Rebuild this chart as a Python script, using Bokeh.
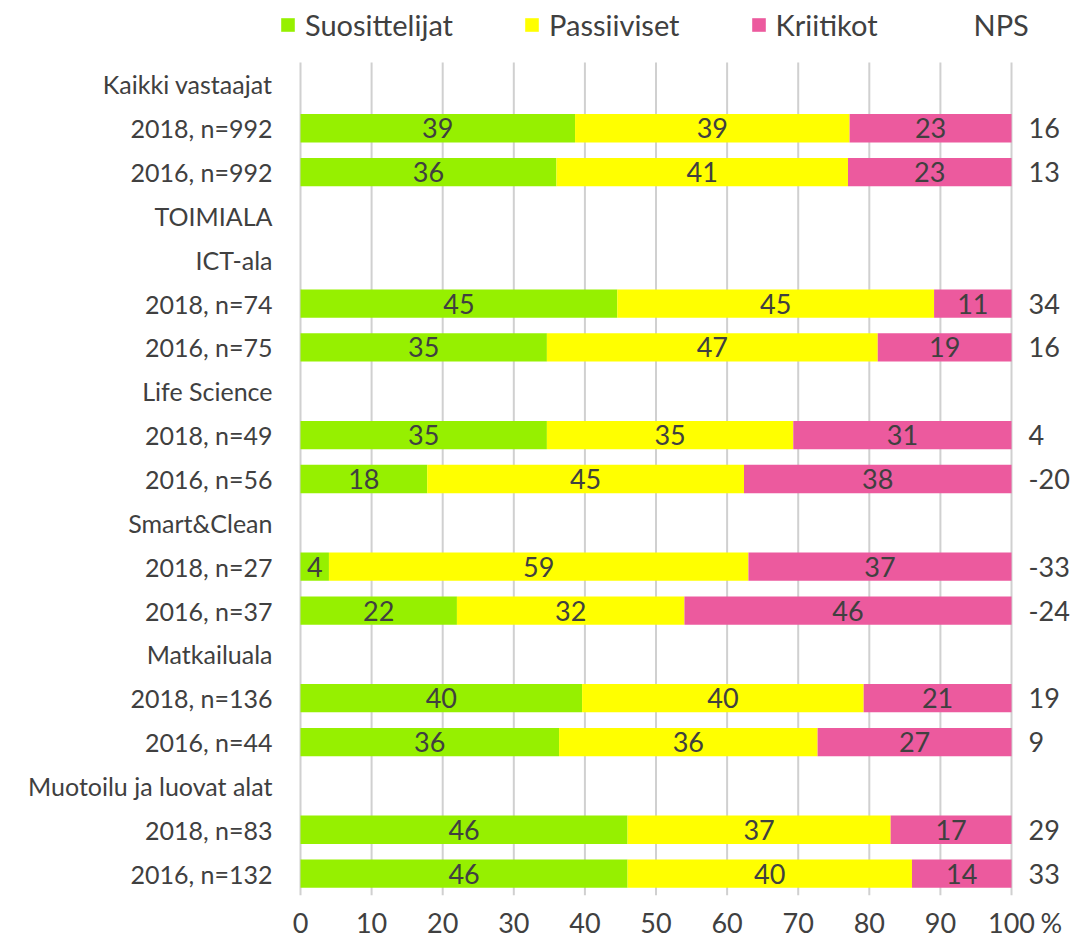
from bokeh.plotting import figure
from bokeh.models import (ColumnDataSource, Range1d, FixedTicker, Legend, LegendItem)
from bokeh.core.properties import value
from bokeh.embed import file_html
from bokeh.resources import INLINE

# ---------------- data ----------------
row_labels = ["Kaikki vastaajat", "2018, n=992", "2016, n=992", "TOIMIALA", "ICT-ala",
              "2018, n=74", "2016, n=75", "Life Science", "2018, n=49", "2016, n=56",
              "Smart&Clean", "2018, n=27", "2016, n=37", "Matkailuala", "2018, n=136",
              "2016, n=44", "Muotoilu ja luovat alat", "2018, n=83", "2016, n=132"]
bar_rows = ["2018, n=992", "2016, n=992", "2018, n=74", "2016, n=75", "2018, n=49",
            "2016, n=56", "2018, n=27", "2016, n=37", "2018, n=136", "2016, n=44",
            "2018, n=83", "2016, n=132"]
suosittelijat = [39, 36, 45, 35, 35, 18, 4, 22, 40, 36, 46, 46]
passiiviset = [39, 41, 45, 47, 35, 45, 59, 32, 40, 36, 37, 40]
kriitikot = [23, 23, 11, 19, 31, 38, 37, 46, 21, 27, 17, 14]
nps = [16, 13, 34, 16, 4, -20, -33, -24, 19, 9, 29, 33]
x_ticks = [0, 10, 20, 30, 40, 50, 60, 70, 80, 90, 100]

series_names = ["Suosittelijat", "Passiiviset", "Kriitikot"]
colors = ["#96F000", "#FFFF00", "#EC5A9E"]
TXT = "#404040"
FONT = "Lato"
FS = "25px"
FS_BAR = "27px"
FS_LEG = "29px"

# ---------------- derived (normalised to 100 %) ----------------
n_rows = len(row_labels)
ys = [row_labels.index(r) for r in bar_rows]
tot = [a + b + c for a, b, c in zip(suosittelijat, passiiviset, kriitikot)]
s_n = [a / t * 100 for a, t in zip(suosittelijat, tot)]
p_n = [b / t * 100 for b, t in zip(passiiviset, tot)]
k_n = [c / t * 100 for c, t in zip(kriitikot, tot)]

src = ColumnDataSource(dict(y=ys, Suosittelijat=s_n, Passiiviset=p_n, Kriitikot=k_n))

p = figure(width=1076, height=945, output_backend="svg", toolbar_location=None,
           x_range=Range1d(-3.376, 109.14), y_range=Range1d(n_rows - 0.5, -1.914),
           min_border_left=276, min_border_right=0, min_border_top=0, min_border_bottom=50)
p.outline_line_color = None
p.background_fill_color = "white"
p.xgrid.grid_line_color = None
p.ygrid.grid_line_color = None

# vertical grid lines over the category area
p.segment(x0=x_ticks, x1=x_ticks, y0=[-0.5] * len(x_ticks), y1=[n_rows - 0.5] * len(x_ticks),
          line_color="#D0D0D0", line_width=2)

rends = p.hbar_stack(series_names, y="y", height=0.645, color=colors, source=src,
                     line_color=None)

# segment labels
lab_x, lab_y, lab_t = [], [], []
for i in range(len(bar_rows)):
    start = 0.0
    for vals, raw in ((s_n, suosittelijat), (p_n, passiiviset), (k_n, kriitikot)):
        lab_x.append(start + vals[i] / 2)
        lab_y.append(ys[i])
        lab_t.append(str(raw[i]))
        start += vals[i]
p.text(x=lab_x, y=lab_y, text=lab_t, text_align="center", text_baseline="middle",
       text_font=value(FONT), text_font_size=FS_BAR, text_color=TXT)

# NPS values
p.text(x=[102.4] * len(nps), y=ys, text=[str(v) for v in nps], text_align="left",
       text_baseline="middle", text_font=value(FONT), text_font_size=FS_BAR, text_color=TXT)

# dummy renderer for NPS legend entry
dummy = p.scatter(x=[], y=[], alpha=0)

# axes
p.xaxis.ticker = FixedTicker(ticks=x_ticks + [105.6])
p.xaxis.major_label_overrides = {105.6: "%"}
p.xaxis.axis_line_color = None
p.xaxis.major_tick_line_color = None
p.xaxis.minor_tick_line_color = None
p.xaxis.major_label_standoff = 4
p.xaxis.major_label_text_font = FONT
p.xaxis.major_label_text_font_size = FS_BAR
p.xaxis.major_label_text_color = TXT

p.yaxis.ticker = FixedTicker(ticks=list(range(n_rows)))
p.yaxis.major_label_overrides = {i: l for i, l in enumerate(row_labels)}
p.yaxis.axis_line_color = None
p.yaxis.major_tick_line_color = None
p.yaxis.minor_tick_line_color = None
p.yaxis.major_label_standoff = -2
p.yaxis.major_label_text_font = FONT
p.yaxis.major_label_text_font_size = FS
p.yaxis.major_label_text_color = TXT

items = [LegendItem(label=n, renderers=[r]) for n, r in zip(series_names, rends)]
items.append(LegendItem(label="NPS", renderers=[dummy]))
legend = Legend(items=items, orientation="horizontal", location=(3, 853),
                spacing=70, label_standoff=9, glyph_width=17, glyph_height=17,
                padding=0, margin=0, border_line_color=None, background_fill_alpha=0,
                label_text_font=FONT, label_text_font_size=FS_LEG, label_text_color=TXT,
                label_height=34)
p.add_layout(legend, "center")

open("out.html", "w").write(file_html(p, INLINE))
